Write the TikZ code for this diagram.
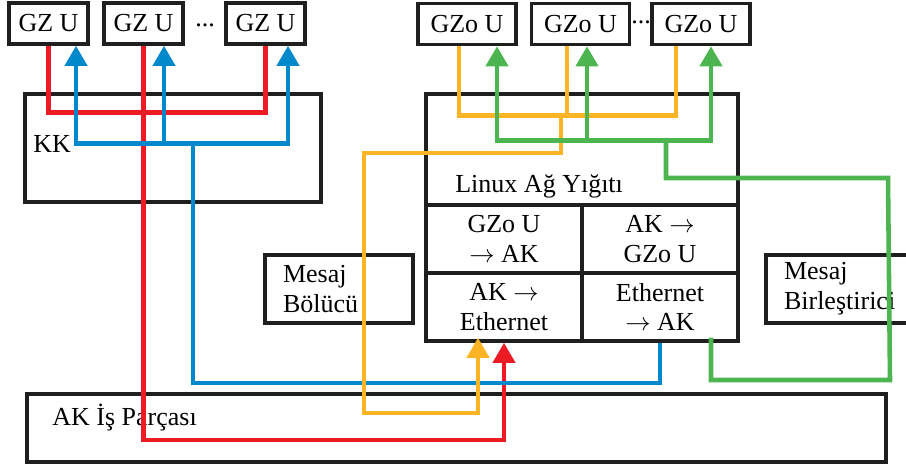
\documentclass[tikz,border=0pt]{standalone}
\usepackage{fontspec}
\setmainfont{Liberation Serif}
\usepackage{xcolor}
\usepackage{tikz}
\usetikzlibrary{arrows.meta,calc}

\definecolor{kirmizi}{HTML}{ED1C24}
\definecolor{mavi}{HTML}{0088CC}
\definecolor{sari}{HTML}{FBB423}
\definecolor{yesil}{HTML}{4CB54F}

\begin{document}
\begin{tikzpicture}[x=0.02cm, y=-0.02cm, every node/.style={align=center, font=\fontsize{14.8}{17}\selectfont}]
\tikzset{
  box/.style={draw=black!88, line width=2pt, inner sep=0pt},
  gzbox/.style={box, minimum width=1.58cm, minimum height=0.82cm},
  gzobox/.style={box, minimum width=1.96cm, minimum height=0.82cm},
  cellbox/.style={box, minimum width=3.12cm, minimum height=1.36cm},
  textbox/.style={box, align=left, inner xsep=0.36cm, minimum height=1.36cm},
  plain/.style={anchor=west, inner sep=0pt},
  wire/.style={line width=2.6pt},
  tip/.style={-{Triangle[width=12.5pt,length=11.5pt]}},
  tips/.style={{Triangle[width=12.5pt,length=11.5pt]}-{Triangle[width=12.5pt,length=11.5pt]}}
}
\useasboundingbox (0,0) rectangle (906,469);

% ust birimler
\node[gzbox] (gz1) at (48.5,23.5) {GZ U};
\node[gzbox] (gz2) at (143.5,23.5) {GZ U};
\node[gzbox] (gz3) at (265.5,23.5) {GZ U};
\node (gzdots) at (205,25) {...};
\node[gzobox] (go1) at (467,24) {GZo U};
\node[gzobox] (go2) at (580.5,24) {GZo U};
\node[gzobox] (go3) at (701,24) {GZo U};
\node (godots) at (641,22) {...};

% kutular
\node[box, minimum width=5.92cm, minimum height=2.16cm] (kk) at (173,148) {};
\node[plain] (kklbl) at (33,144) {KK};
\node[box, minimum width=6.24cm, minimum height=2.22cm] (linux) at (582,149.5) {};
\node[plain] (linuxlbl) at (455,186) {Linux Ağ Yığıtı};
\node[cellbox] (c1) at (504,239) {GZo U\\$\rightarrow$ AK};
\node[cellbox] (c2) at (660,239) {AK $\rightarrow$\\GZo U};
\node[cellbox] (c3) at (504,307) {AK $\rightarrow$\\Ethernet};
\node[cellbox] (c4) at (660,307) {Ethernet\\$\rightarrow$ AK};
\node[textbox, text width=2.24cm] (bolucu) at (339,289) {Mesaj\\Bölücü};
\node[textbox, text width=2.48cm] (birles) at (846,289) {Mesaj\\Birleştirici};
\node[box, minimum width=17.18cm, minimum height=1.36cm] (isparca) at (456.5,428) {};
\node[plain] (isparcalbl) at (52,418) {AK İş Parçası};

% kirmizi
\draw[wire, kirmizi] (gz1.south) |- ($(gz3.south)+(0,67)$) -- (gz3.south);
\coordinate (kirmizialt) at (143.5,440);
\draw[wire, kirmizi, tip] (gz2.south) -- (kirmizialt) -| (c3.south);

% mavi
\draw[wire, mavi, tips] ($(gz1.south)+(27.5,0)$) |- ($(gz3.south)+(22.5,98)$) -- ($(gz3.south)+(22.5,0)$);
\draw[wire, mavi, tip] ($(gz2.south)+(20.5,98)$) -- ($(gz2.south)+(20.5,0)$);
\coordinate (mavikol) at (193,142);
\coordinate (mavialt) at (193,383);
\draw[wire, mavi] (mavikol) -- (mavialt) -| (c4.south);

% sari
\draw[wire, sari] ($(go1.south)+(-8,0)$) |- ($(go3.south)+(-25,69)$) -- ($(go3.south)+(-25,0)$);
\draw[wire, sari] ($(go2.south)+(-13.5,0)$) -- ($(go2.south)+(-13.5,69)$);
\coordinate (sarikol) at (561,113);
\coordinate (sarisol) at (364,153);
\coordinate (sarialt) at (364,413);
\draw[wire, sari, tip] (sarikol) |- (sarisol) -- (sarialt) -| ($(c3.south)+(-26,-5)$);

% yesil
\draw[wire, yesil, tips] ($(go1.south)+(30,0)$) |- ($(go3.south)+(10,94)$) -- ($(go3.south)+(10,0)$);
\draw[wire, yesil, tip] ($(go2.south)+(6.5,94)$) -- ($(go2.south)+(6.5,0)$);
\coordinate (yesilkol) at (666,138);
\coordinate (yesilsag) at (888,178);
\coordinate (yesilalt) at (890,380);
\draw[wire, yesil] (yesilkol) |- (yesilsag) -- (yesilalt) -| ($(c4.south)+(51,-5)$);
\end{tikzpicture}
\end{document}
